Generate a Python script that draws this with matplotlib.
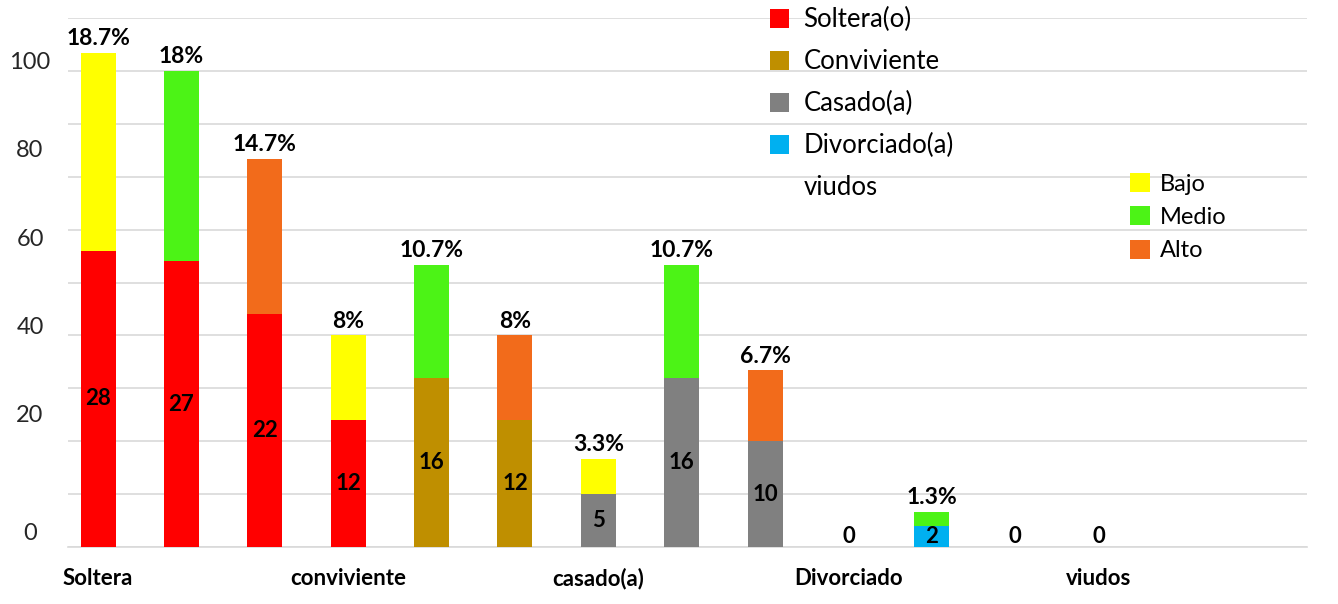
import matplotlib
matplotlib.use("Agg")
import matplotlib.pyplot as plt
from matplotlib.patches import Patch
import matplotlib.transforms as mtransforms

# ---- data ----
categories = ["Soltera", "conviviente", "casado(a)", "Divorciado", "viudos"]
category_pos = [0, 3, 6, 9, 12]
counts = [28, 27, 22, 12, 16, 12, 5, 16, 10, 0, 2, 0, 0]
percents = [18.7, 18, 14.7, 8, 10.7, 8, 3.3, 10.7, 6.7, 0, 1.3, 0, 0]
pct_labels = ["18.7%", "18%", "14.7%", "8%", "10.7%", "8%", "3.3%", "10.7%", "6.7%", "", "1.3%", "", ""]
count_colors = ["#FF0000", "#FF0000", "#FF0000", "#FF0000", "#BF8F00", "#BF8F00",
                "#808080", "#808080", "#808080", "#00B0F0", "#00B0F0", "#00B0F0", "#00B0F0"]
level_colors = ["#FFFF00", "#4CF316", "#F26B1B"] * 4 + ["#F26B1B"]
level_colors[10] = "#4CF316"
ytick_labels = ["100", "80", "60", "40", "20", "0"]
ytick_pos = [45.75, 37.45, 29.1, 20.75, 12.4, 1.3]
status_legend = ["Soltera(o)", "Conviviente", "Casado(a)", "Divorciado(a)", "viudos"]
status_colors = ["#FF0000", "#BF8F00", "#808080", "#00B0F0", "none"]
level_legend = ["Bajo", "Medio", "Alto"]
level_legend_colors = ["#FFFF00", "#4CF316", "#F26B1B"]

FONT = "Lato"

fig = plt.figure(figsize=(13.38, 6.04), dpi=100)
ax = fig.add_axes([68 / 1338, 57 / 604, (1307 - 68) / 1338, (547 - 18) / 604])

x = list(range(len(counts)))
ax.bar(x, counts, width=0.42, color=count_colors, zorder=3)
ax.bar(x, percents, bottom=counts, width=0.42, color=level_colors, zorder=3)

for xi, c, p, pl in zip(x, counts, percents, pct_labels):
    ax.text(xi, max(c, 2) / 2, str(c), ha="center", va="center",
            fontsize=16, fontweight="bold", family=FONT, zorder=4)
    if pl:
        ax.text(xi, c + p + 0.35, pl, ha="center", va="bottom",
                fontsize=16.5, fontweight="bold", family=FONT, zorder=4)

ax.set_xlim(-0.36, 14.5)
ax.set_ylim(0, 50)
ax.set_yticks([i * 5 for i in range(11)])
ax.set_yticklabels([])
ax.tick_params(axis="y", length=0)
ax.grid(axis="y", color="#D9D9D9", linewidth=1.2, zorder=0)
for s in ["top", "right", "left"]:
    ax.spines[s].set_visible(False)
ax.spines["bottom"].set_color("#D9D9D9")
ax.spines["bottom"].set_linewidth(1.2)

ax.set_xticks(category_pos)
ax.set_xticklabels([])
ax.tick_params(axis="x", length=0)
xtrans = mtransforms.blended_transform_factory(ax.transData, fig.transFigure)
for lab, xp in zip(categories, category_pos):
    fig.text(xp, 1 - 585 / 604, lab, transform=xtrans, ha="center", va="baseline",
             fontsize=16, fontweight="bold", family=FONT)

trans = mtransforms.blended_transform_factory(fig.transFigure, ax.transData)
for lab, yp in zip(ytick_labels, ytick_pos):
    fig.text(30 / 1338, yp, lab, transform=trans, ha="center", va="center",
             fontsize=17, family=FONT, color="#262626")

h1 = [Patch(facecolor=c, edgecolor="none") for c in status_colors]
leg1 = ax.legend(h1, status_legend, loc="upper left", bbox_to_anchor=(770 / 1338, 1 - 7 / 604),
                 bbox_transform=fig.transFigure, frameon=False,
                 prop={"family": FONT, "size": 18.5}, handlelength=0.75, handleheight=0.75,
                 handletextpad=0.55, labelspacing=0.66, borderaxespad=0, borderpad=0)
ax.add_artist(leg1)

h2 = [Patch(facecolor=c, edgecolor="none") for c in level_legend_colors]
ax.legend(h2, level_legend, loc="upper left", bbox_to_anchor=(1130 / 1338, 1 - 173 / 604),
          bbox_transform=fig.transFigure, frameon=False,
          prop={"family": FONT, "size": 17}, handlelength=0.85, handleheight=0.85,
          handletextpad=0.4, labelspacing=0.5, borderaxespad=0, borderpad=0)

fig.savefig("out.png", dpi=100)
